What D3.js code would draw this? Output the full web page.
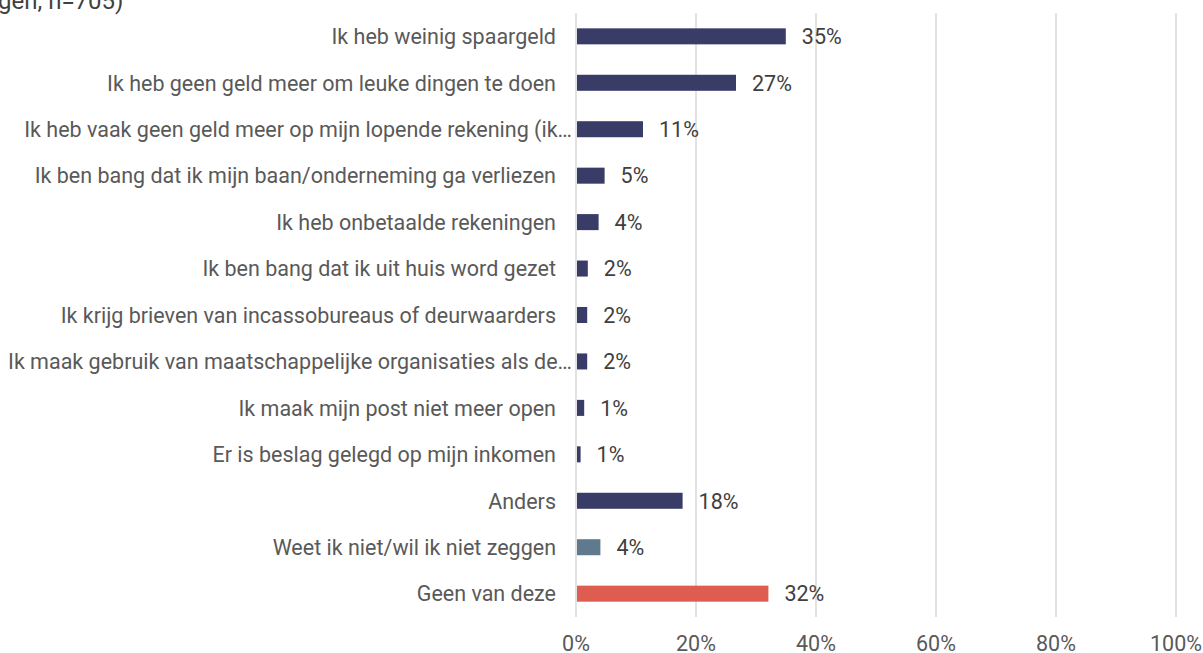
<!DOCTYPE html>
<html>
<head>
<meta charset="utf-8">
<script src="https://cdn.jsdelivr.net/npm/d3@7"></script>
<style>
  body { margin: 0; background: #fff; overflow: hidden; }
  svg text { font-family: Roboto, "Noto Sans", sans-serif; }
</style>
</head>
<body>
<div id="chart"></div>
<script>
// Data
var categories = [
    "Ik heb weinig spaargeld",
    "Ik heb geen geld meer om leuke dingen te doen",
    "Ik heb vaak geen geld meer op mijn lopende rekening (ik…",
    "Ik ben bang dat ik mijn baan/onderneming ga verliezen",
    "Ik heb onbetaalde rekeningen",
    "Ik ben bang dat ik uit huis word gezet",
    "Ik krijg brieven van incassobureaus of deurwaarders",
    "Ik maak gebruik van maatschappelijke organisaties als de…",
    "Ik maak mijn post niet meer open",
    "Er is beslag gelegd op mijn inkomen",
    "Anders",
    "Weet ik niet/wil ik niet zeggen",
    "Geen van deze"
];
var values = [34.8, 26.5, 11.0, 4.6, 3.6, 1.8, 1.7, 1.7, 1.2, 0.6, 17.6, 3.9, 31.9];
var groups = ["main", "main", "main", "main", "main", "main", "main", "main", "main", "main", "main", "dontknow", "none"];
var xTicks = [0, 20, 40, 60, 80, 100];
var titleText = "gen, n=705)";

var svgWidth = 1203;
var svgHeight = 653;

var margin = { top: 13, right: 27, bottom: 36, left: 576 };
var width = svgWidth - margin.left - margin.right;
var height = svgHeight - margin.top - margin.bottom;

var colors = { main: "#393c67", dontknow: "#5f798d", none: "#df5c51" };

var svg = d3.select("#chart")
    .append("svg")
    .attr("width", svgWidth)
    .attr("height", svgHeight);

// Title fragment (cut off at the top left)
svg.append("text")
    .attr("x", -2)
    .attr("y", 9)
    .attr("font-size", "24px")
    .attr("fill", "#404040")
    .text(titleText);

var chartGroup = svg.append("g")
    .attr("transform", `translate(${margin.left}, ${margin.top})`);

var xScale = d3.scaleLinear()
    .domain([0, 100])
    .range([0, 600]);

var yScale = d3.scaleBand()
    .domain(categories)
    .range([0, height])
    .paddingInner(0.655)
    .paddingOuter(0.33);

// Gridlines
chartGroup.selectAll(".grid")
    .data(xTicks)
    .enter()
    .append("line")
    .attr("x1", d => xScale(d))
    .attr("x2", d => xScale(d))
    .attr("y1", 0)
    .attr("y2", height)
    .attr("stroke", "#d9d9d9")
    .attr("stroke-width", 1.5);

// x axis tick labels
chartGroup.selectAll(".tick-label")
    .data(xTicks)
    .enter()
    .append("text")
    .attr("x", d => xScale(d))
    .attr("y", height + 34)
    .attr("text-anchor", "middle")
    .attr("font-size", "21.5px")
    .attr("fill", "#595959")
    .text(d => d + "%");

// Bars
chartGroup.selectAll(".bar")
    .data(values)
    .enter()
    .append("rect")
    .attr("x", xScale(0) + 1)
    .attr("y", (d, i) => yScale(categories[i]))
    .attr("width", d => xScale(d) - xScale(0))
    .attr("height", yScale.bandwidth())
    .attr("fill", (d, i) => colors[groups[i]]);

// Value labels
chartGroup.selectAll(".value")
    .data(values)
    .enter()
    .append("text")
    .attr("x", d => xScale(d) + 17)
    .attr("y", (d, i) => yScale(categories[i]) + yScale.bandwidth() / 2)
    .attr("dy", "0.36em")
    .attr("font-size", "21.5px")
    .attr("fill", "#404040")
    .text(d => Math.round(d) + "%");

// Category labels (truncated ones sit a bit further right)
chartGroup.selectAll(".cat")
    .data(categories)
    .enter()
    .append("text")
    .attr("x", d => d.endsWith("…") ? -4 : -20)
    .attr("y", d => yScale(d) + yScale.bandwidth() / 2)
    .attr("dy", "0.36em")
    .attr("text-anchor", "end")
    .attr("font-size", "21.5px")
    .attr("fill", "#595959")
    .text(d => d);
</script>
</body>
</html>
